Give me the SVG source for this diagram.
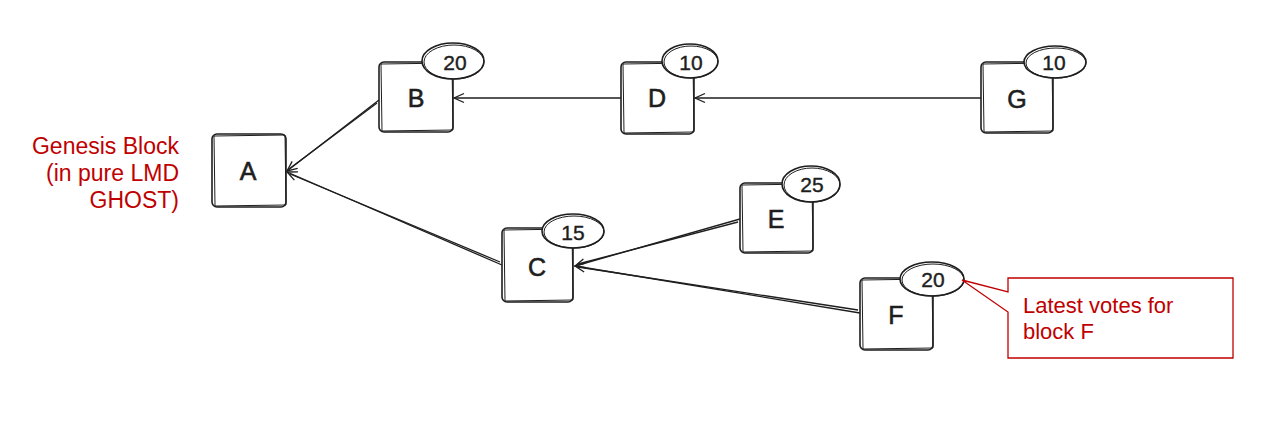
<svg xmlns="http://www.w3.org/2000/svg" width="1278" height="423" viewBox="0 0 1278 423">
<defs>
<style>
.box{fill:#fff;stroke:#1e1e1e;stroke-width:1.6}
.box2{fill:none;stroke:#1e1e1e;stroke-width:1}
.badge{fill:#fff;stroke:#1e1e1e;stroke-width:1.6}
.badge2{fill:none;stroke:#1e1e1e;stroke-width:1}
.lbl{font-family:"Liberation Sans",sans-serif;font-size:25px;fill:#1e1e1e;stroke:#1e1e1e;stroke-width:0.6;text-anchor:middle}
.num{font-family:"Liberation Sans",sans-serif;font-size:21px;fill:#1e1e1e;stroke:#1e1e1e;stroke-width:0.4;text-anchor:middle}
.edge{fill:none;stroke:#1e1e1e;stroke-width:1.3}
.red{font-family:"Liberation Sans",Arial,sans-serif;fill:#c00000}
</style>
<marker id="arr" viewBox="0 0 12 12" refX="11" refY="6" markerWidth="12" markerHeight="12" markerUnits="userSpaceOnUse" orient="auto">
<path d="M1,1.5 L11,6 L1,10.5" fill="none" stroke="#1e1e1e" stroke-width="1.3"/>
</marker>
</defs>

<g id="connectors">
<path class="edge" d="M379,100 L287,171" marker-end="url(#arr)"/>
<path class="edge" d="M377,103 L289,169"/>
<path class="edge" d="M502,265 L287,172" marker-end="url(#arr)"/>
<path class="edge" d="M500,262 L290,174"/>
<path class="edge" d="M621,98 L454,98" marker-end="url(#arr)"/>
<path class="edge" d="M981,98 L695,98" marker-end="url(#arr)"/>
<path class="edge" d="M740,219 L575,266" marker-end="url(#arr)"/>
<path class="edge" d="M738,222 L578,264"/>
<path class="edge" d="M860,313 L575,266" marker-end="url(#arr)"/>
<path class="edge" d="M858,310 L578,267"/>
</g>

<g id="node-A">
<rect class="box" x="212" y="134" width="74" height="73" rx="5"/>
<path class="box2" d="M214,136 L285,135 L286,205 L215,206 Z"/>
<text class="lbl" x="248" y="180">A</text>
</g>

<g id="node-B">
<rect class="box" x="379" y="62" width="74" height="70" rx="5"/>
<path class="box2" d="M381,64 L452,63 L453,130 L382,131 Z"/>
<text class="lbl" x="416" y="107">B</text>
<ellipse class="badge" cx="453" cy="61" rx="31" ry="18"/>
<ellipse class="badge2" cx="454" cy="62" rx="30" ry="17"/>
<text class="num" x="455" y="70">20</text>
</g>

<g id="node-D">
<rect class="box" x="621" y="62" width="73" height="72" rx="5"/>
<path class="box2" d="M623,64 L693,63 L694,132 L624,133 Z"/>
<text class="lbl" x="657" y="107">D</text>
<ellipse class="badge" cx="690" cy="61" rx="28" ry="17"/>
<ellipse class="badge2" cx="691" cy="62" rx="27" ry="16"/>
<text class="num" x="691" y="70">10</text>
</g>

<g id="node-G">
<rect class="box" x="981" y="62" width="72" height="71" rx="5"/>
<path class="box2" d="M983,64 L1052,63 L1053,131 L984,132 Z"/>
<text class="lbl" x="1017" y="108">G</text>
<ellipse class="badge" cx="1055" cy="62" rx="31" ry="16"/>
<ellipse class="badge2" cx="1056" cy="63" rx="30" ry="15"/>
<text class="num" x="1054" y="70">10</text>
</g>

<g id="node-C">
<rect class="box" x="502" y="228" width="71" height="74" rx="5"/>
<path class="box2" d="M504,230 L572,229 L573,300 L505,301 Z"/>
<text class="lbl" x="537" y="276">C</text>
<ellipse class="badge" cx="573" cy="231" rx="31" ry="17"/>
<ellipse class="badge2" cx="574" cy="232" rx="30" ry="16"/>
<text class="num" x="573" y="240">15</text>
</g>

<g id="node-E">
<rect class="box" x="740" y="183" width="73" height="70" rx="5"/>
<path class="box2" d="M742,185 L812,184 L813,251 L743,252 Z"/>
<text class="lbl" x="776" y="228">E</text>
<ellipse class="badge" cx="811" cy="184" rx="29" ry="18"/>
<ellipse class="badge2" cx="812" cy="185" rx="28" ry="17"/>
<text class="num" x="812" y="192">25</text>
</g>

<g id="node-F">
<rect class="box" x="860" y="278" width="73" height="72" rx="5"/>
<path class="box2" d="M862,280 L932,279 L933,348 L863,349 Z"/>
<text class="lbl" x="896" y="324">F</text>
<ellipse class="badge" cx="932" cy="279" rx="32" ry="17"/>
<ellipse class="badge2" cx="933" cy="280" rx="31" ry="16"/>
<text class="num" x="933" y="287">20</text>
</g>

<g id="genesis-label">
<text class="red" font-size="23" text-anchor="end"><tspan x="179" y="154">Genesis Block</tspan><tspan x="179" y="181">(in pure LMD</tspan><tspan x="179" y="208">GHOST)</tspan></text>
</g>

<g id="callout">
<path d="M1008,278 L1233,278 L1233,358 L1008,358 L1008,312 L962,280 L1008,292 Z" fill="#fff" stroke="#c00000" stroke-width="1.3"/>
<text class="red" font-size="22"><tspan x="1023" y="313">Latest votes for</tspan><tspan x="1023" y="339">block F</tspan></text>
</g>
</svg>
